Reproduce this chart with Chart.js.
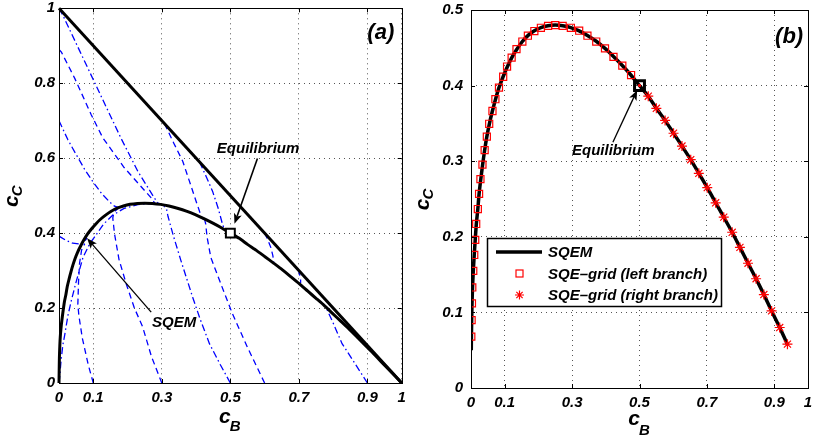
<!DOCTYPE html>
<html>
<head>
<meta charset="utf-8">
<script src="https://cdn.jsdelivr.net/npm/chart.js@4.4.0/dist/chart.umd.min.js"></script>
<style>
  html, body { margin: 0; padding: 0; background: #fff; }
  #wrapA { position: absolute; left: 0; top: 0; width: 410px; height: 442px; }
  #wrapB { position: absolute; left: 410px; top: 0; width: 408px; height: 442px; }
</style>
</head>
<body>
<div id="wrapA"><canvas id="chartA"></canvas></div>
<div id="wrapB"><canvas id="chartB"></canvas></div>
<script>
// ---- data ----
const xTickVals = [0, 0.1, 0.3, 0.5, 0.7, 0.9, 1];
const yTicksA = [0, 0.2, 0.4, 0.6, 0.8, 1];
const yTicksB = [0, 0.1, 0.2, 0.3, 0.4, 0.5];

// SQEM curve, c_B and c_C
const sqemB = [0, 0.0008, 0.0012, 0.002, 0.003, 0.0045, 0.0068, 0.0096, 0.0125, 0.0158, 0.0203, 0.024,
  0.029, 0.0345, 0.0405, 0.047, 0.0545, 0.0635, 0.0728, 0.083, 0.0952, 0.1075, 0.121, 0.136, 0.1524,
  0.1695, 0.188, 0.2074, 0.2287, 0.25, 0.272, 0.2963, 0.321, 0.3455, 0.3716, 0.3976, 0.4228, 0.449,
  0.475, 0.5, 0.526, 0.55, 0.576, 0.601, 0.626, 0.652, 0.676, 0.701, 0.726, 0.75, 0.775, 0.798, 0.822,
  0.846, 0.869, 0.892, 0.916, 0.94, 0.97, 1];
const sqemC = [0, 0.05, 0.068, 0.09, 0.112, 0.133, 0.155, 0.176, 0.196, 0.217, 0.237, 0.257,
  0.276, 0.2955, 0.3146, 0.3325, 0.3495, 0.3664, 0.382, 0.3973, 0.4117, 0.4245, 0.437, 0.448, 0.4583,
  0.4665, 0.4725, 0.4768, 0.4792, 0.48, 0.4792, 0.4767, 0.4723, 0.4663, 0.4587, 0.4492, 0.4385, 0.4265,
  0.4137, 0.4, 0.386, 0.37, 0.354, 0.337, 0.32, 0.302, 0.284, 0.265, 0.245, 0.226, 0.206, 0.186, 0.165,
  0.1445, 0.1236, 0.102, 0.08, 0.057, 0.029, 0];

// SQE-grid, left branch (squares)
const leftB = [0.0009, 0.0018, 0.0028, 0.0038, 0.0067, 0.0096, 0.0125, 0.0154, 0.0203, 0.024, 0.028,
  0.034, 0.0405, 0.047, 0.054, 0.0637, 0.0724, 0.083, 0.0955, 0.107, 0.1206, 0.135, 0.1524, 0.1688,
  0.188, 0.2074, 0.2287, 0.2499, 0.272, 0.2963, 0.321, 0.3455, 0.3716, 0.3976, 0.4228, 0.449, 0.475];
const leftC = [0.068, 0.0897, 0.112, 0.133, 0.155, 0.176, 0.196, 0.217, 0.2367, 0.2567, 0.2763,
  0.2955, 0.3146, 0.3325, 0.3495, 0.3664, 0.382, 0.3973, 0.4117, 0.4252, 0.437, 0.4483, 0.4583, 0.466,
  0.4722, 0.4765, 0.479, 0.48, 0.479, 0.4765, 0.4726, 0.466, 0.4583, 0.4492, 0.438, 0.4265, 0.414];

// SQE-grid, right branch (stars)
const rightB = [0.5, 0.526, 0.55, 0.576, 0.601, 0.626, 0.652, 0.676, 0.701, 0.726, 0.75, 0.775,
  0.798, 0.822, 0.846, 0.869, 0.892, 0.916, 0.939];
const rightC = [0.4, 0.386, 0.37, 0.354, 0.337, 0.32, 0.302, 0.284, 0.265, 0.245, 0.226, 0.206,
  0.186, 0.165, 0.1445, 0.1236, 0.102, 0.08, 0.058];

const equilibrium = [0.5, 0.4];
const edgeB = [0, 1];
const edgeC = [1, 0];

// trajectories in panel (a), pairs [c_B, c_C]
const trCorner = [[0, 1], [0.012, 0.98], [0.06, 0.887], [0.12, 0.771], [0.181, 0.653], [0.23, 0.565], [0.278, 0.494], [0.29, 0.479]];
const trAxis89 = [[0, 0.89], [0.007, 0.883], [0.046, 0.813], [0.094, 0.716], [0.128, 0.654], [0.19, 0.575], [0.269, 0.494], [0.28, 0.479]];
const trAxis70 = [[0, 0.70], [0.026, 0.649], [0.05, 0.61], [0.075, 0.57], [0.099, 0.537], [0.125, 0.505], [0.147, 0.484], [0.162, 0.472], [0.175, 0.468]];
const trAxis39 = [[0, 0.392], [0.02, 0.381], [0.04, 0.373], [0.06, 0.371], [0.072, 0.375], [0.082, 0.387]];
const trEdge31 = [[0.308, 0.692], [0.335, 0.64], [0.361, 0.592], [0.38, 0.54], [0.4, 0.485], [0.415, 0.445], [0.42, 0.437]];
const trEdge41 = [[0.41, 0.59], [0.43, 0.55], [0.448, 0.512], [0.465, 0.465], [0.477, 0.424], [0.482, 0.412]];
const trEdge60 = [[0.6, 0.4], [0.608, 0.385], [0.618, 0.362], [0.624, 0.34], [0.627, 0.322]];
const trEdge70 = [[0.698, 0.302], [0.702, 0.29], [0.705, 0.278], [0.705, 0.267]];
const trBase00 = [[0, 0], [0.002, 0.017], [0.006, 0.06], [0.011, 0.1], [0.017, 0.13], [0.026, 0.18], [0.036, 0.22], [0.05, 0.27],
  [0.07, 0.335], [0.09, 0.372], [0.104, 0.39], [0.13, 0.424], [0.157, 0.448], [0.19, 0.466], [0.23, 0.476], [0.27, 0.479]];
const trBase10 = [[0.1, 0], [0.085, 0.05], [0.068, 0.12], [0.058, 0.18], [0.055, 0.21], [0.057, 0.27], [0.06, 0.32], [0.066, 0.355], [0.075, 0.372]];
const trBase30 = [[0.3, 0], [0.27, 0.07], [0.244, 0.15], [0.22, 0.2], [0.196, 0.265], [0.175, 0.33], [0.162, 0.398], [0.157, 0.44], [0.16, 0.456], [0.172, 0.465]];
const trBase50 = [[0.5, 0], [0.47, 0.05], [0.439, 0.105], [0.412, 0.17], [0.39, 0.229], [0.356, 0.326], [0.333, 0.395], [0.318, 0.445], [0.314, 0.463], [0.306, 0.472]];
const trBase60 = [[0.6, 0], [0.55, 0.095], [0.506, 0.185], [0.47, 0.27], [0.443, 0.335], [0.432, 0.39], [0.428, 0.425], [0.425, 0.436]];
const trBase90 = [[0.9, 0], [0.865, 0.05], [0.826, 0.105], [0.8, 0.16], [0.783, 0.194], [0.776, 0.206]];

// ---- helpers ----
const FONT = '"Liberation Sans", Arial, sans-serif';
Chart.defaults.font.family = FONT;
const tickFont = { family: FONT, size: 15, weight: 'bold', style: 'italic' };

function pts(xs, ys) {
    return xs.map((v, i) => ({ x: v, y: ys[i] }));
}
function pairs(list) {
    return list.map(p => ({ x: p[0], y: p[1] }));
}

function makeScales(yTicks, yMax, yWidth, xHeight, yPad, xPad) {
    return {
        x: {
            type: 'linear', min: 0, max: 1,
            afterBuildTicks: s => { s.ticks = xTickVals.map(v => ({ value: v })); },
            afterFit: s => { s.height = xHeight; s.paddingLeft = 0; s.paddingRight = 0; },
            ticks: { font: tickFont, color: '#000', padding: xPad, maxRotation: 0, autoSkip: false, callback: v => String(v) },
            grid: { color: '#555', lineWidth: 1, drawTicks: false },
            border: { display: false, dash: [1, 4] }
        },
        y: {
            type: 'linear', min: 0, max: yMax,
            afterBuildTicks: s => { s.ticks = yTicks.map(v => ({ value: v })); },
            afterFit: s => { s.width = yWidth; s.paddingTop = 0; s.paddingBottom = 0; },
            ticks: { font: tickFont, color: '#000', padding: yPad, autoSkip: false, callback: v => String(v) },
            grid: { color: '#555', lineWidth: 1, drawTicks: false },
            border: { display: false, dash: [1, 4] }
        }
    };
}

// box around the axes with small inward ticks, like MATLAB
const frame = {
    id: 'frame',
    afterDatasetsDraw(chart) {
        const { ctx, chartArea: a, scales: { x, y } } = chart;
        ctx.save();
        ctx.strokeStyle = '#000';
        ctx.lineWidth = 1;
        ctx.strokeRect(Math.round(a.left) + 0.5, Math.round(a.top) + 0.5,
            Math.round(a.right - a.left), Math.round(a.bottom - a.top));
        ctx.beginPath();
        x.ticks.forEach(t => {
            const px = Math.round(x.getPixelForValue(t.value)) + 0.5;
            ctx.moveTo(px, a.bottom); ctx.lineTo(px, a.bottom - 4);
            ctx.moveTo(px, a.top); ctx.lineTo(px, a.top + 4);
        });
        y.ticks.forEach(t => {
            const py = Math.round(y.getPixelForValue(t.value)) + 0.5;
            ctx.moveTo(a.left, py); ctx.lineTo(a.left + 4, py);
            ctx.moveTo(a.right, py); ctx.lineTo(a.right - 4, py);
        });
        ctx.stroke();
        ctx.restore();
    }
};

// axis titles c_B and c_C with subscripts
const axisTitles = {
    id: 'axisTitles',
    afterDraw(chart, args, opts) {
        const { ctx, chartArea: a } = chart;
        const big = 'italic bold 21px ' + FONT;
        const small = 'italic bold 15px ' + FONT;
        ctx.save();
        ctx.fillStyle = '#000';
        ctx.textBaseline = 'alphabetic';
        ctx.textAlign = 'left';
        // x title
        ctx.font = big;
        const wc = ctx.measureText('c').width;
        ctx.font = small;
        const wB = ctx.measureText('B').width;
        let x0 = (a.left + a.right) / 2 - (wc + wB) / 2;
        ctx.font = big;
        ctx.fillText('c', x0, opts.xBase);
        ctx.font = small;
        ctx.fillText('B', x0 + wc - 1, opts.xBase + opts.subDrop);
        // y title
        ctx.font = small;
        const wC = ctx.measureText('C').width;
        ctx.translate(opts.yBase, (a.top + a.bottom) / 2);
        ctx.rotate(-Math.PI / 2);
        x0 = -(wc + wC) / 2;
        ctx.font = big;
        ctx.fillText('c', x0, 0);
        ctx.font = small;
        ctx.fillText('C', x0 + wc - 1, 4);
        ctx.restore();
    }
};

// text labels and arrows, placed in data coordinates
const notes = {
    id: 'notes',
    afterDraw(chart, args, opts) {
        const { ctx, scales: { x, y } } = chart;
        ctx.save();
        (opts.arrows || []).forEach(ar => {
            const x0 = x.getPixelForValue(ar.from[0]), y0 = y.getPixelForValue(ar.from[1]);
            const x1 = x.getPixelForValue(ar.to[0]), y1 = y.getPixelForValue(ar.to[1]);
            const ang = Math.atan2(y1 - y0, x1 - x0);
            const head = ar.head;
            ctx.strokeStyle = '#000';
            ctx.fillStyle = '#000';
            ctx.lineWidth = ar.width;
            ctx.beginPath();
            ctx.moveTo(x0, y0);
            ctx.lineTo(x1 - head * 0.7 * Math.cos(ang), y1 - head * 0.7 * Math.sin(ang));
            ctx.stroke();
            ctx.beginPath();
            ctx.moveTo(x1, y1);
            ctx.lineTo(x1 - head * Math.cos(ang - 0.38), y1 - head * Math.sin(ang - 0.38));
            ctx.lineTo(x1 - head * 0.7 * Math.cos(ang), y1 - head * 0.7 * Math.sin(ang));
            ctx.lineTo(x1 - head * Math.cos(ang + 0.38), y1 - head * Math.sin(ang + 0.38));
            ctx.closePath();
            ctx.fill();
        });
        (opts.labels || []).forEach(t => {
            ctx.font = 'italic bold ' + t.size + 'px ' + FONT;
            ctx.fillStyle = '#000';
            ctx.textAlign = 'center';
            ctx.textBaseline = 'middle';
            ctx.fillText(t.text, x.getPixelForValue(t.at[0]), y.getPixelForValue(t.at[1]));
        });
        ctx.restore();
    }
};

// legend box of panel (b)
const legendBox = {
    id: 'legendBox',
    afterDraw(chart) {
        const { ctx } = chart;
        const ds = chart.data.datasets;
        const line = ds.find(d => d.label === 'SQEM');
        const sq = ds.find(d => d.pointStyle === 'rect' && d.label !== 'Equilibrium');
        const st = ds.find(d => d.pointStyle === 'star');
        const left = 77.5, top = 238.5, w = 234, h = 68;
        const rows = [252, 273.5, 295];
        const mx = 109.5, tx = 138;
        ctx.save();
        ctx.fillStyle = '#fff';
        ctx.fillRect(left, top, w, h);
        ctx.strokeStyle = '#000';
        ctx.lineWidth = 1.5;
        ctx.strokeRect(left, top, w, h);
        // line sample
        ctx.strokeStyle = line.borderColor;
        ctx.lineWidth = line.borderWidth;
        ctx.beginPath();
        ctx.moveTo(86, rows[0]); ctx.lineTo(132, rows[0]);
        ctx.stroke();
        // square sample
        ctx.strokeStyle = sq.borderColor;
        ctx.lineWidth = sq.borderWidth;
        ctx.strokeRect(mx - 3.5, rows[1] - 3.5, 7, 7);
        // star sample
        ctx.strokeStyle = st.borderColor;
        ctx.lineWidth = st.borderWidth;
        const r = 4.5;
        ctx.beginPath();
        ctx.moveTo(mx - r, rows[2]); ctx.lineTo(mx + r, rows[2]);
        ctx.moveTo(mx, rows[2] - r); ctx.lineTo(mx, rows[2] + r);
        ctx.moveTo(mx - r * 0.7, rows[2] - r * 0.7); ctx.lineTo(mx + r * 0.7, rows[2] + r * 0.7);
        ctx.moveTo(mx - r * 0.7, rows[2] + r * 0.7); ctx.lineTo(mx + r * 0.7, rows[2] - r * 0.7);
        ctx.stroke();
        ctx.fillStyle = '#000';
        ctx.font = 'italic bold 15px ' + FONT;
        ctx.textAlign = 'left';
        ctx.textBaseline = 'middle';
        [line, sq, st].forEach((d, i) => ctx.fillText(d.label, tx, rows[i] + 1));
        ctx.restore();
    }
};

// ---- panel (a) ----
const dashDot = [7, 3, 1.5, 3];
const dashed = [6, 4];
const trajList = [
    { pts: trCorner, dash: dashDot }, { pts: trAxis89, dash: dashed }, { pts: trAxis70, dash: dashDot },
    { pts: trAxis39, dash: dashDot }, { pts: trEdge31, dash: dashed }, { pts: trEdge41, dash: dashDot },
    { pts: trEdge60, dash: dashed }, { pts: trEdge70, dash: dashed }, { pts: trBase00, dash: dashDot },
    { pts: trBase10, dash: dashed }, { pts: trBase30, dash: dashed }, { pts: trBase50, dash: dashDot },
    { pts: trBase60, dash: dashed }, { pts: trBase90, dash: dashDot }
];

const datasetsA = [
    {
        label: 'Equilibrium', data: [{ x: equilibrium[0], y: equilibrium[1] }],
        pointStyle: 'rect', pointRadius: 6.3, borderColor: '#000', backgroundColor: '#fff', borderWidth: 2, showLine: false
    },
    {
        label: 'SQEM', data: pts(sqemB, sqemC), showLine: true, pointRadius: 0,
        borderColor: '#000', borderWidth: 3, tension: 0.2, clip: 4
    },
    {
        label: 'edge', data: pts(edgeB, edgeC), showLine: true, pointRadius: 0,
        borderColor: '#000', borderWidth: 3, clip: 4
    }
].concat(trajList.map((t, i) => ({
    label: 'traj' + i, data: pairs(t.pts), showLine: true, pointRadius: 0,
    borderColor: '#0000ff', borderWidth: 1.3, borderDash: t.dash, tension: 0
})));

new Chart(document.getElementById('chartA').getContext('2d'), {
    type: 'scatter',
    data: { datasets: datasetsA },
    options: {
        responsive: true, maintainAspectRatio: false, animation: false, devicePixelRatio: 1,
        layout: { padding: { left: 0, top: 6, right: 7, bottom: 0 } },
        scales: makeScales(yTicksA, 1, 59, 59, 4, 6),
        plugins: {
            legend: { display: false }, tooltip: { enabled: false },
            axisTitles: { xBase: 423, subDrop: 8, yBase: 18 },
            notes: {
                arrows: [
                    { from: [0.579, 0.599], to: [0.512, 0.425], width: 1.6, head: 11 },
                    { from: [0.269, 0.189], to: [0.082, 0.386], width: 1.3, head: 11 }
                ],
                labels: [
                    { text: 'Equilibrium', at: [0.581, 0.626], size: 15 },
                    { text: 'SQEM', at: [0.336, 0.16], size: 15 },
                    { text: '(a)', at: [0.939, 0.934], size: 22 }
                ]
            }
        }
    },
    plugins: [frame, axisTitles, notes]
});

// ---- panel (b) ----
const sqemPartB = pts(sqemB, sqemC).filter(p => p.y >= 0.045 && p.x <= 0.94);

new Chart(document.getElementById('chartB').getContext('2d'), {
    type: 'scatter',
    data: {
        datasets: [
            {
                label: 'Equilibrium', data: [{ x: equilibrium[0], y: equilibrium[1] }],
                pointStyle: 'rect', pointRadius: 7, borderColor: '#000', backgroundColor: 'rgba(0,0,0,0)', borderWidth: 3
            },
            {
                label: 'SQE\u2013grid (right branch)', data: pts(rightB, rightC),
                pointStyle: 'star', pointRadius: c => (c.dataIndex === 0 ? 1.5 : 5),
                borderColor: '#ff0000', backgroundColor: '#ff0000', borderWidth: 1.2
            },
            {
                label: 'SQE\u2013grid (left branch)', data: pts(leftB, leftC),
                pointStyle: 'rect', pointRadius: 5, borderColor: '#ff0000', backgroundColor: 'rgba(0,0,0,0)', borderWidth: 1.2
            },
            {
                label: 'SQEM', data: sqemPartB, showLine: true, pointRadius: 0,
                borderColor: '#000', borderWidth: 3.5, tension: 0.2
            }
        ]
    },
    options: {
        responsive: true, maintainAspectRatio: false, animation: false, devicePixelRatio: 1,
        layout: { padding: { left: 0, top: 5, right: 2, bottom: 0 } },
        scales: makeScales(yTicksB, 0.5, 61, 54, 8, 6),
        plugins: {
            legend: { display: false }, tooltip: { enabled: false },
            axisTitles: { xBase: 425, subDrop: 10, yBase: 19 },
            notes: {
                arrows: [
                    { from: [0.421, 0.325], to: [0.493, 0.394], width: 1.3, head: 11 }
                ],
                labels: [
                    { text: 'Equilibrium', at: [0.422, 0.314], size: 15 },
                    { text: '(b)', at: [0.944, 0.465], size: 22 }
                ]
            }
        }
    },
    plugins: [frame, axisTitles, notes, legendBox]
});
</script>
</body>
</html>
